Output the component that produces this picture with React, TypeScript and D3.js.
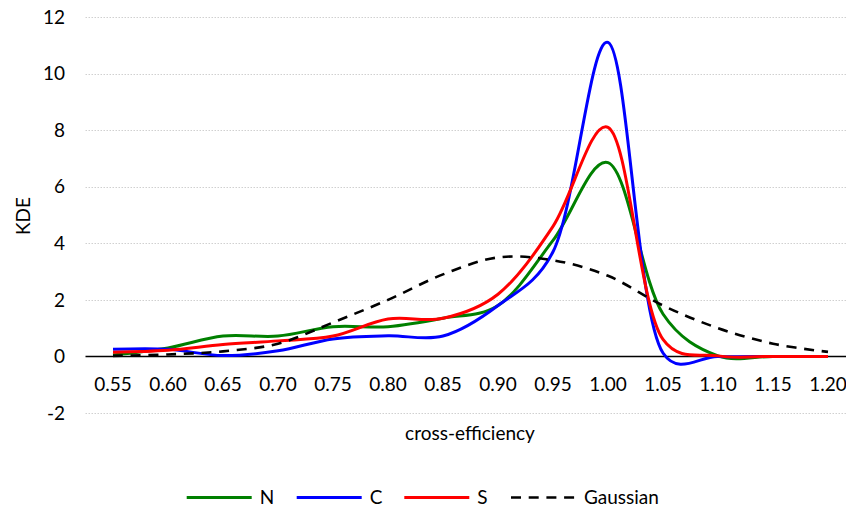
import { useEffect, useRef } from 'react'
import * as d3 from 'd3'

const CATEGORIES = ['0.55', '0.60', '0.65', '0.70', '0.75', '0.80', '0.85', '0.90', '0.95', '1.00', '1.05', '1.10', '1.15', '1.20']
const N_VALUES = [0.05, 0.3, 0.72, 0.72, 1.05, 1.05, 1.35, 1.8, 4.1, 6.85, 1.5, 0.02, 0.0, 0.0]
const C_VALUES = [0.25, 0.25, 0.03, 0.2, 0.62, 0.73, 0.72, 1.8, 3.7, 11.1, 0.12, 0.0, 0.0, 0.0]
const S_VALUES = [0.15, 0.22, 0.42, 0.55, 0.72, 1.32, 1.35, 2.2, 4.6, 8.1, 0.6, 0.02, 0.0, 0.0]
const GAUSS_VALUES = [0.02, 0.07, 0.18, 0.45, 1.2, 2.0, 2.9, 3.5, 3.4, 2.85, 1.8, 1.0, 0.45, 0.16]
const Y_TICKS = [-2, 0, 2, 4, 6, 8, 10, 12]

const SERIES = [
  { name: 'N', values: N_VALUES, color: '#008000', dash: null },
  { name: 'C', values: C_VALUES, color: '#0000ff', dash: null },
  { name: 'S', values: S_VALUES, color: '#ff0000', dash: null },
  { name: 'Gaussian', values: GAUSS_VALUES, color: '#000000', dash: '10,7.7' },
]

const FONT = 'Lato, "Open Sans", sans-serif'
const W = 846
const H = 509

export default function App() {
  const ref = useRef<SVGSVGElement | null>(null)

  useEffect(() => {
    if (!ref.current) return
    const svg = d3.select(ref.current)
    svg.selectAll('*').remove()

    const plotLeft = 85.5
    const x = d3.scalePoint<string>().domain(CATEGORIES).range([plotLeft, plotLeft + 55 * 14]).padding(0.5)
    const y = d3.scaleLinear().domain([-2, 12]).range([413, 17])

    // gridlines
    svg
      .append('g')
      .selectAll('line')
      .data(Y_TICKS.filter((t) => t !== 0))
      .join('line')
      .attr('x1', plotLeft)
      .attr('x2', W)
      .attr('y1', (d) => Math.round(y(d)) + 0.5)
      .attr('y2', (d) => Math.round(y(d)) + 0.5)
      .attr('stroke', '#d0d0d0')
      .attr('stroke-width', 1)
      .attr('stroke-dasharray', '1.5,1.5')

    // y labels
    svg
      .append('g')
      .selectAll('text')
      .data(Y_TICKS)
      .join('text')
      .attr('x', 65)
      .attr('y', (d) => y(d))
      .attr('dy', '0.35em')
      .attr('text-anchor', 'end')
      .attr('font-family', FONT)
      .attr('font-size', 19)
      .attr('fill', '#000')
      .text((d) => d)

    // zero axis
    svg
      .append('line')
      .attr('x1', plotLeft)
      .attr('x2', W)
      .attr('y1', y(0))
      .attr('y2', y(0))
      .attr('stroke', '#000')
      .attr('stroke-width', 1.5)

    // x labels
    svg
      .append('g')
      .selectAll('text')
      .data(CATEGORIES)
      .join('text')
      .attr('x', (d) => x(d) as number)
      .attr('y', 384.5)
      .attr('dy', '0.35em')
      .attr('text-anchor', 'middle')
      .attr('font-family', FONT)
      .attr('font-size', 19)
      .attr('fill', '#000')
      .text((d) => d)

    const line = d3
      .line<number>()
      .x((_, i) => x(CATEGORIES[i]) as number)
      .y((d) => y(d))
      .curve(d3.curveCatmullRom.alpha(0.3))

    SERIES.forEach((s) => {
      svg
        .append('path')
        .attr('d', line(s.values))
        .attr('fill', 'none')
        .attr('stroke', s.color)
        .attr('stroke-width', s.dash ? 2.6 : 3)
        .attr('stroke-dasharray', s.dash)
        .attr('stroke-linejoin', 'round')
    })

    // axis titles
    svg
      .append('text')
      .attr('transform', 'translate(23,216) rotate(-90)')
      .attr('text-anchor', 'middle')
      .attr('dy', '0.35em')
      .attr('font-family', FONT)
      .attr('font-size', 19)
      .attr('fill', '#000')
      .text('KDE')

    svg
      .append('text')
      .attr('x', 470)
      .attr('y', 433)
      .attr('dy', '0.35em')
      .attr('text-anchor', 'middle')
      .attr('font-family', FONT)
      .attr('font-size', 19)
      .attr('fill', '#000')
      .text('cross-efficiency')

    // legend
    const legendX = [186.7, 296.7, 404.3, 511]
    const lg = svg.append('g')
    SERIES.forEach((s, i) => {
      const lx = legendX[i]
      lg.append('line')
        .attr('x1', lx)
        .attr('x2', lx + 65)
        .attr('y1', 497.5)
        .attr('y2', 497.5)
        .attr('stroke', s.color)
        .attr('stroke-width', s.dash ? 2.6 : 3)
        .attr('stroke-dasharray', s.dash)
      lg.append('text')
        .attr('x', lx + 73)
        .attr('y', 497.5)
        .attr('dy', '0.35em')
        .attr('font-family', FONT)
        .attr('font-size', 19)
        .attr('fill', '#000')
        .text(s.name)
    })
  }, [])

  return (
    <svg
      ref={ref}
      width={W}
      height={H}
      style={{ position: 'absolute', left: 0, top: 0, background: '#fff' }}
    />
  )
}
